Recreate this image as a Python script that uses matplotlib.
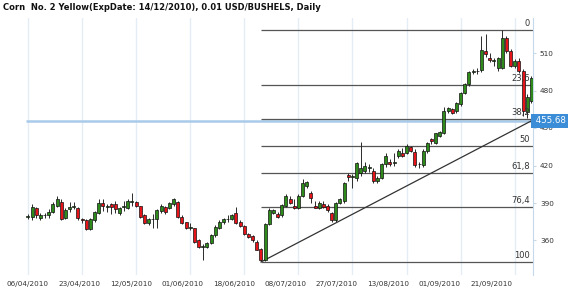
import numpy as np
import matplotlib
matplotlib.use("Agg")
import matplotlib.pyplot as plt
from matplotlib.transforms import blended_transform_factory

title = "Corn  No. 2 Yellow(ExpDate: 14/12/2010), 0.01 USD/BUSHELS, Daily"
date_labels = ["06/04/2010", "23/04/2010", "12/05/2010", "01/06/2010", "18/06/2010",
               "08/07/2010", "27/07/2010", "13/08/2010", "01/09/2010", "21/09/2010"]

opens = [379, 379, 386, 378, 380, 380, 383, 388, 391, 378, 385, 387, 386, 377, 376, 369, 376, 382, 390, 387,
         389, 389, 382, 387, 386, 391, 391, 387.6, 380, 374, 377, 377, 384, 387, 386, 389, 391, 379, 374.5, 370,
         369.7, 360, 355, 355, 358, 364, 370, 374.5, 377, 377, 382, 375, 371.6, 365, 363.6, 359, 353, 344, 373, 382,
         381, 380, 388, 393, 387.5, 386, 396, 403.6, 397.8, 388, 386, 389, 387.6, 382, 376, 390, 392, 412.5, 411, 410,
         414, 416, 418, 416, 408, 410, 421, 423, 422, 428, 430, 430, 435, 431, 421, 420.6, 431.6, 441, 438, 444,
         446, 464, 465, 463.6, 469, 478, 485, 494.8, 495.5, 496.6, 512, 506, 504, 498, 498, 522, 511.6, 499.6, 504, 495.6,
         463, 472]
highs = [381, 389, 387, 382, 382, 385, 391, 396, 393, 386, 391, 391, 387, 378, 377, 378, 384, 393, 393, 389,
         390, 392, 387, 392, 393, 398, 392, 388, 381, 378, 381, 385, 389, 388, 391, 394, 392, 380, 375, 374,
         370, 361, 357, 359, 365, 372, 376, 378, 380, 381, 387, 376, 372, 366, 364, 360, 354, 374, 386, 385,
         383, 389, 397, 396, 393, 397, 409, 408, 400, 392, 392, 392, 389, 383, 391, 394, 407, 414, 413, 423,
         438.5, 423, 421, 418, 412, 422, 430, 425, 430, 433, 434, 437, 436, 433, 423, 433, 439, 442, 446, 448,
         467, 467, 466, 471, 479, 486, 496, 497, 498, 524, 525, 510, 506, 507, 528.6, 524, 513, 505, 506, 497,
         477, 492]
lows = [377, 376, 378, 376, 378, 378, 382, 387, 376, 377, 383, 385, 376, 374, 368, 368, 375, 381, 384, 383,
        381, 382, 380, 384, 385, 388, 387, 378, 373, 372, 370, 370, 382, 381, 385, 388, 378, 373, 369, 368,
        358, 354, 344, 354, 357, 363, 369, 373, 375, 376, 373, 371, 364, 362, 359, 352, 343.5, 343.5, 372, 381,
        378, 379, 387, 389, 385, 385, 395, 402, 390, 386, 385, 386, 383, 375, 375, 389, 390, 408, 402, 408,
        412, 414, 415, 406, 406, 409, 419, 420, 420, 426, 427, 429, 431, 419, 418, 419, 430, 437, 437, 443,
        445, 462, 461, 462, 468, 477, 484, 493, 493, 495, 507, 503, 500, 496, 497, 510, 499, 498, 494, 460,
        458, 470]
closes = [379.5, 387, 380, 380, 380.5, 383, 389, 393.5, 377, 384, 387, 387.5, 378, 376, 369, 377, 383, 390, 388, 387.5,
          387, 385, 386, 387.5, 392, 391.5, 388, 379, 374, 377, 377.5, 384, 388, 383, 390, 393, 379, 374, 369.7, 370.5,
          359, 354.5, 355.5, 358, 364, 371, 375, 377.5, 377.5, 380, 374, 371.6, 365, 363, 360, 352.4, 344, 373, 384, 384,
          379, 388, 396, 390, 386, 396, 405.7, 407, 393.8, 386, 390, 387, 384.4, 376.5, 390, 393, 406, 411, 411.5, 421.7,
          418, 420, 418.5, 408, 410, 421, 427.6, 421.6, 422.5, 432, 428, 435.6, 432, 420.6, 421.5, 431.6, 438, 439.5, 446, 447,
          464, 466, 462, 470, 478, 485, 494.8, 495.3, 496, 512.6, 509, 504.6, 504.5, 506, 522, 512, 500, 504, 495.6, 464,
          475, 490]

ytick_values = [360, 390, 420, 450, 480, 510]
fib_levels = [0, 23.6, 38.2, 50, 61.8, 76.4, 100]
fib_labels = ["0", "23,6", "38,2", "50", "61,8", "76,4", "100"]
fib_high = 528.4
fib_low = 342.8
fib_start = 56
trend_x = [56, 121.4]
trend_y = [342.8, 456.4]
hline_value = 455.68
hline_label = "455.68"

W, H = 570, 294
fig = plt.figure(figsize=(W / 100, H / 100), dpi=100)
fig.patch.set_facecolor("white")
ax = fig.add_axes([25 / W, 1 - 275 / H, (533 - 25) / W, (275 - 18) / H])
XMIN, XMAX = -0.72, 121.4
ax.set_xlim(XMIN, XMAX)
ax.set_ylim(332.4, 538)

n = len(opens)
x = np.arange(n)
o = np.array(opens, float)
h = np.array(highs, float)
l = np.array(lows, float)
c = np.array(closes, float)

# vertical grid
for gx in np.arange(0, n, 13):
    ax.axvline(gx, color="#e4edf6", lw=1.0, zorder=0)

# candles
ax.vlines(x, l, h, color="#2a2a2a", lw=0.7, zorder=2)
up = c >= o
colors = np.where(up, "#2f8a1c", "#e5141b")
bottoms = np.minimum(o, c)
heights = np.maximum(np.abs(c - o), 0.5)
ax.bar(x, heights, bottom=bottoms, width=0.72, color=colors, edgecolor="#111111",
       linewidth=0.5, zorder=3)

# blue horizontal line
ax.hlines(hline_value, -0.5, XMAX, color="#a9cbea", lw=1.8, zorder=1)

# fibonacci
for lvl, lab in zip(fib_levels, fib_labels):
    val = fib_high - lvl / 100 * (fib_high - fib_low)
    ax.hlines(val, fib_start, XMAX, color="#555555", lw=0.9, zorder=1.5)
    ax.annotate(lab, (XMAX, val), xytext=(-2, 1.5), textcoords="offset points",
                ha="right", va="bottom", fontsize=6, color="#333333", zorder=4)

# trend line
ax.plot(trend_x, trend_y, color="#333333", lw=0.9, zorder=2.5)

# axes styling
for s in ["top", "left", "bottom"]:
    ax.spines[s].set_visible(False)
ax.spines["right"].set_color("#c6d9ea")
ax.yaxis.tick_right()
ax.set_yticks(ytick_values)
ax.set_yticklabels([str(v) for v in ytick_values])
ax.tick_params(axis="y", length=2, color="#c6d9ea", labelsize=5.2, labelcolor="#333333", pad=3)
ax.set_xticks(np.arange(len(date_labels)) * 12.37)
ax.set_xticklabels(date_labels)
ax.tick_params(axis="x", length=0, labelsize=5.2, labelcolor="#333333", pad=4)

# value box
tr = blended_transform_factory(ax.transAxes, ax.transData)
ax.text(1.0, hline_value, " " + hline_label, transform=tr, ha="left", va="center",
        fontsize=6.2, color="white", zorder=6, clip_on=False,
        bbox=dict(boxstyle="square,pad=0.28", fc="#3a8dd6", ec="none"))

# title
t = fig.text(3 / W, 1 - 7 / H, title, ha="left", va="center", fontsize=6.5,
             fontweight="bold", color="#111111")
fig.canvas.draw()
bb = t.get_window_extent()
t.set_fontsize(6.5 * 318 / bb.width)

fig.savefig("out.png", dpi=100, facecolor="white")
